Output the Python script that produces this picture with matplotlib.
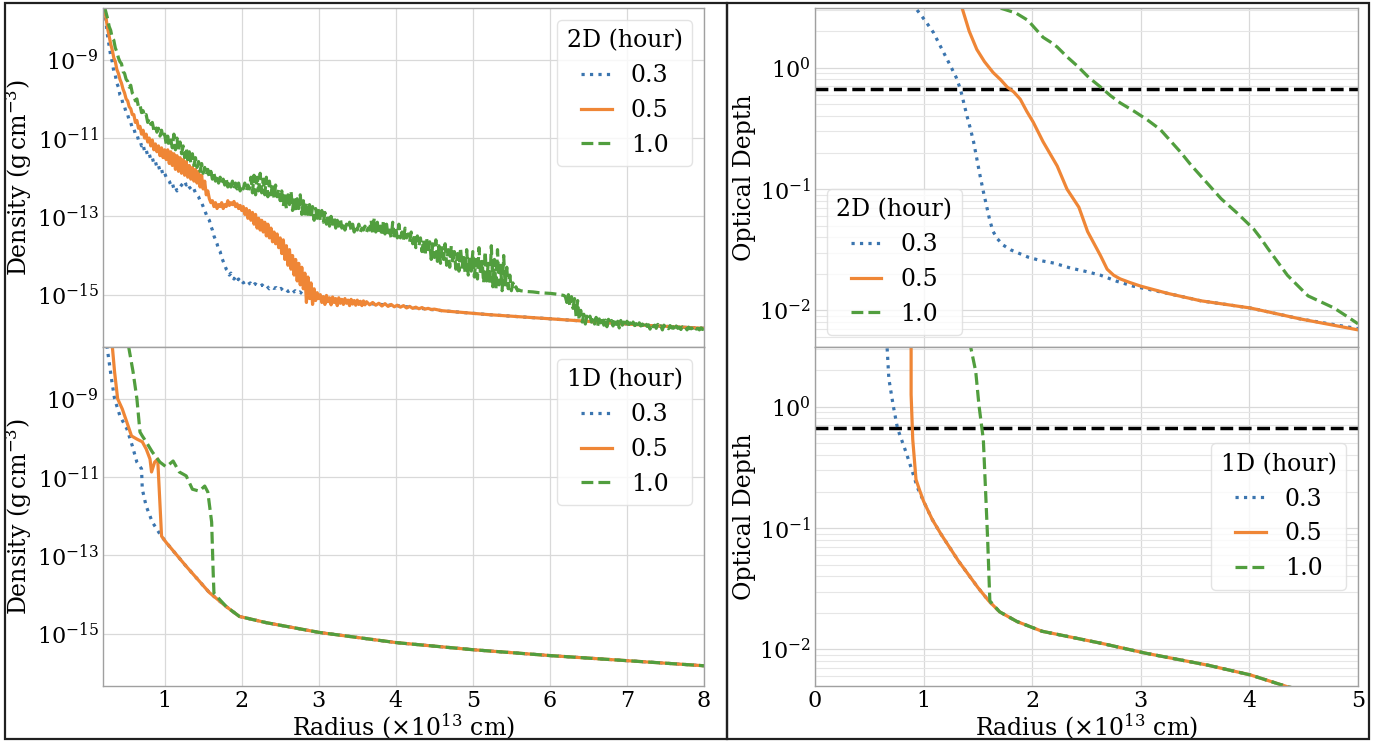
import numpy as np
import matplotlib
matplotlib.use('Agg')
from matplotlib import pyplot as plt
from matplotlib.patches import Rectangle
from matplotlib.ticker import FixedLocator, NullLocator

plt.rcParams['font.family'] = 'DejaVu Serif'
plt.rcParams['mathtext.fontset'] = 'dejavuserif'

# ---------------------------------------
# data: radius in 1e13 cm, density / optical depth as log10
# 2D profiles are stored per radial segment: (r_start, r_end, values on an even grid)
# ---------------------------------------
hours = ['0.3', '0.5', '1.0']
colors = ['#3b75af', '#ef8636', '#519e3e']
styles = [':', '-', '--']

# 2D density, 0.3 h
rho2d_03_seg = [
	(0.22, 1.00, [-7.70, -8.05, -8.40, -8.65, -8.90, -9.05, -9.30, -9.40, -9.60, -9.70,
	              -9.90, -9.95, -10.15, -10.20, -10.35, -10.40, -10.55, -10.60, -10.75, -10.75,
	              -10.90, -10.90, -11.05, -11.05, -11.20, -11.15, -11.35, -11.30, -11.45, -11.40,
	              -11.55, -11.50, -11.65, -11.60, -11.75, -11.70, -11.85, -11.80, -11.95, -11.90]),
	(1.02, 1.50, [-12.00, -12.05, -12.10, -12.20, -12.15, -12.30, -12.25, -12.35, -12.30, -12.25,
	              -12.20, -12.15, -12.10, -12.20, -12.15, -12.25, -12.30, -12.35, -12.30, -12.40,
	              -12.45, -12.50, -12.60, -12.65, -12.75]),
	(1.52, 2.00, [-12.85, -12.95, -13.05, -13.10, -13.25, -13.35, -13.50, -13.60, -13.70, -13.85,
	              -13.90, -14.05, -14.15, -14.25, -14.35, -14.40, -14.50, -14.45, -14.55, -14.60,
	              -14.55, -14.65, -14.60, -14.68, -14.65]),
	(2.02, 3.00, [-14.70, -14.66, -14.74, -14.70, -14.78, -14.72, -14.76, -14.80, -14.75, -14.82,
	              -14.78, -14.85, -14.80, -14.84, -14.82, -14.88, -14.84, -14.90, -14.86, -14.92,
	              -14.88, -14.95, -14.90, -14.96, -14.93, -14.98, -14.95, -15.00, -14.98, -15.03,
	              -15.00, -15.05, -15.04]),
]
r2d_03_tail = [3.1, 3.3, 3.6, 4.0, 4.6, 4.9, 5.2, 5.5, 5.8, 6.1, 6.4, 6.7, 7.0, 7.3, 7.6, 8.0]
rho2d_03_tail = [-15.10, -15.16, -15.22, -15.28, -15.41, -15.46, -15.51, -15.55, -15.59, -15.63,
                 -15.67, -15.71, -15.75, -15.79, -15.82, -15.86]

# 2D density, 0.5 h
rho2d_05_seg = [
	(0.22, 1.00, [-7.70, -7.95, -8.20, -8.40, -8.60, -8.75, -8.95, -9.05, -9.25, -9.35,
	              -9.50, -9.60, -9.75, -9.85, -10.00, -10.05, -10.20, -10.25, -10.40, -10.40,
	              -10.60, -10.55, -10.75, -10.70, -10.90, -10.80, -11.00, -10.90, -11.10, -11.00,
	              -11.20, -11.05, -11.30, -11.15, -11.35, -11.20, -11.45, -11.25, -11.50, -11.30]),
	(1.02, 1.56, [-11.55, -11.30, -11.65, -11.35, -11.70, -11.40, -11.80, -11.45, -11.85, -11.50,
	              -11.90, -11.55, -11.95, -11.60, -12.00, -11.70, -12.05, -11.75, -12.10, -11.80,
	              -12.15, -11.85, -12.25, -11.95, -12.30, -12.10, -12.45, -12.35]),
	(1.58, 2.00, [-12.55, -12.65, -12.60, -12.75, -12.65, -12.80, -12.70, -12.75, -12.65, -12.80,
	              -12.70, -12.75, -12.60, -12.72, -12.65, -12.70, -12.62, -12.75, -12.68, -12.80,
	              -12.72, -12.85]),
	(2.02, 3.00, [-12.75, -12.95, -12.80, -13.05, -12.85, -13.10, -12.90, -13.20, -12.95, -13.30,
	              -13.05, -13.35, -13.10, -13.40, -13.15, -13.50, -13.20, -13.55, -13.30, -13.65,
	              -13.40, -13.70, -13.45, -13.80, -13.55, -13.95, -13.60, -14.10, -13.75, -14.25,
	              -13.85, -14.35, -14.00, -14.50, -14.10, -14.65, -14.20, -14.75, -14.30, -14.85,
	              -14.45, -15.20, -14.55, -15.10, -14.70, -15.25, -14.85, -15.15, -14.95, -15.10]),
	(3.02, 3.60, [-15.00, -15.20, -15.05, -15.25, -15.02, -15.18, -15.08, -15.26, -15.06, -15.20,
	              -15.10, -15.28, -15.08, -15.22, -15.12, -15.25, -15.10, -15.22, -15.14, -15.28,
	              -15.12, -15.24, -15.15, -15.27, -15.14, -15.25, -15.17, -15.28, -15.16, -15.26]),
	(3.62, 4.50, [-15.18, -15.26, -15.20, -15.27, -15.22, -15.29, -15.23, -15.30, -15.25, -15.31,
	              -15.27, -15.32, -15.28, -15.34, -15.30, -15.35, -15.32, -15.36, -15.33, -15.37,
	              -15.35, -15.38, -15.37]),
]
r2d_05_tail = [4.6, 4.9, 5.2, 5.5, 5.8, 6.1, 6.4, 6.7, 7.0, 7.3, 7.6, 8.0]
rho2d_05_tail = [-15.41, -15.46, -15.51, -15.55, -15.59, -15.63, -15.67, -15.71, -15.75, -15.79,
                 -15.82, -15.86]

# 2D density, 1.0 h
rho2d_10_seg = [
	(0.22, 1.00, [-7.65, -7.80, -7.95, -8.15, -8.25, -8.45, -8.50, -8.70, -8.80, -8.95,
	              -9.05, -9.10, -9.30, -9.35, -9.50, -9.55, -9.70, -9.65, -9.85, -9.90,
	              -10.05, -10.00, -10.20, -10.15, -10.35, -10.30, -10.45, -10.40, -10.60, -10.50,
	              -10.65, -10.60, -10.80, -10.70, -10.85, -10.75, -10.95, -10.80, -11.00, -10.90]),
	(1.02, 2.10, [-11.15, -10.95, -11.20, -11.05, -11.25, -10.90, -11.30, -11.00, -11.35, -11.10,
	              -11.40, -11.20, -11.50, -11.25, -11.55, -11.35, -11.65, -11.40, -11.70, -11.50,
	              -11.75, -11.60, -11.85, -11.65, -11.90, -11.75, -11.95, -11.80, -12.00, -11.85,
	              -12.05, -11.90, -12.10, -11.95, -12.15, -12.00, -12.15, -12.05, -12.20, -12.05,
	              -12.25, -12.10, -12.25, -12.10, -12.30, -12.15, -12.30, -12.15, -12.35, -12.20,
	              -12.30, -12.15, -12.35, -12.20, -12.30]),
	(2.12, 2.50, [-12.00, -12.40, -11.95, -12.45, -12.00, -12.35, -11.90, -12.40, -12.05, -12.45,
	              -12.00, -12.50, -12.10, -12.45, -12.15, -12.55, -12.20, -12.50, -12.30, -12.60]),
	(2.52, 3.00, [-12.35, -12.75, -12.40, -12.80, -12.45, -12.70, -12.35, -12.85, -12.50, -12.90,
	              -12.55, -12.80, -12.45, -12.95, -12.60, -13.00, -12.65, -12.95, -12.70, -13.05,
	              -12.75, -13.10, -12.80, -13.05, -12.85]),
	(3.02, 4.20, [-13.10, -12.85, -13.15, -12.90, -13.20, -12.95, -13.25, -13.00, -13.20, -13.05,
	              -13.30, -13.10, -13.25, -13.05, -13.30, -13.15, -13.35, -13.20, -13.30, -13.15,
	              -13.35, -13.20, -13.40, -13.25, -13.35, -13.20, -13.40, -13.30, -13.35, -13.25,
	              -13.40, -13.30, -13.35, -13.10, -13.45, -13.05, -13.40, -13.15, -13.45, -13.25,
	              -13.50, -13.10, -13.45, -13.20, -13.50, -13.35, -13.55, -13.15, -13.50, -13.30,
	              -13.55, -13.20, -13.55, -13.40, -13.60, -13.30, -13.55, -13.45, -13.65, -13.40]),
	(4.22, 5.60, [-13.70, -13.45, -13.80, -13.50, -13.75, -13.55, -13.90, -13.60, -14.00, -13.55,
	              -13.95, -13.65, -14.10, -13.70, -14.05, -13.60, -14.15, -13.75, -14.20, -13.80,
	              -14.10, -13.70, -14.25, -13.85, -14.30, -13.75, -14.20, -13.90, -14.35, -13.95,
	              -14.40, -13.80, -14.30, -14.00, -14.45, -13.85, -14.50, -14.05, -14.40, -13.90,
	              -14.55, -14.10, -14.60, -13.80, -14.50, -14.15, -14.70, -13.90, -14.65, -14.20,
	              -14.75, -13.75, -14.80, -14.10, -14.85, -13.85, -14.75, -14.25, -14.90, -14.00,
	              -14.80, -14.30, -14.85, -14.50, -14.90, -14.70, -14.85, -14.80, -14.90, -14.88]),
	(5.62, 6.18, [-14.90, -14.92, -14.93, -14.95, -14.96, -14.97, -14.99, -15.02]),
	(6.20, 6.50, [-15.05, -15.20, -15.00, -15.30, -15.05, -15.35, -15.10, -15.55, -15.15, -15.65,
	              -15.40, -15.70, -15.50, -15.75, -15.55, -15.65]),
	(6.52, 8.00, [-15.55, -15.70, -15.60, -15.75, -15.58, -15.80, -15.62, -15.72, -15.60, -15.78,
	              -15.65, -15.82, -15.63, -15.74, -15.66, -15.80, -15.64, -15.76, -15.68, -15.85,
	              -15.66, -15.78, -15.70, -15.82, -15.68, -15.76, -15.72, -15.84, -15.70, -15.79,
	              -15.74, -15.86, -15.72, -15.80, -15.75, -15.83, -15.73, -15.81, -15.77, -15.88,
	              -15.75, -15.82, -15.78, -15.86, -15.76, -15.84, -15.80, -15.90, -15.78, -15.85,
	              -15.81, -15.87, -15.79, -15.85, -15.82, -15.92, -15.80, -15.86, -15.83, -15.89,
	              -15.82, -15.88, -15.84, -15.90, -15.83, -15.87, -15.85, -15.91, -15.84, -15.88,
	              -15.86, -15.90, -15.85, -15.89, -15.87]),
]

# 1D density
r1d_03 = [0.25, 0.31, 0.35, 0.42, 0.51, 0.58, 0.64, 0.70, 0.71, 0.76, 0.84, 0.94, 1.02, 1.28,
          1.58, 1.80, 1.97, 2.32, 3.01, 4.01, 5.00, 6.00, 7.00, 8.00]
rho1d_03 = [-7.64, -8.49, -9.00, -9.44, -9.77, -10.20, -10.62, -10.79, -11.31, -11.74, -12.15,
            -12.46, -12.67, -13.28, -13.95, -14.31, -14.56, -14.72, -14.97, -15.23, -15.41, -15.56,
            -15.69, -15.82]
r1d_05 = [0.32, 0.35, 0.39, 0.45, 0.51, 0.57, 0.64, 0.71, 0.76, 0.81, 0.83, 0.87, 0.91, 0.96,
          1.02, 1.28, 1.58, 1.80, 1.97, 2.32, 3.01, 4.01, 5.00, 6.00, 7.00, 8.00]
rho1d_05 = [-7.64, -8.31, -9.00, -9.26, -9.60, -9.95, -10.03, -10.10, -10.28, -10.54, -10.87,
            -10.62, -10.54, -12.51, -12.67, -13.28, -13.95, -14.31, -14.56, -14.72, -14.97, -15.23,
            -15.41, -15.56, -15.69, -15.82]
r1d_10 = [0.53, 0.59, 0.64, 0.68, 0.71, 0.76, 0.84, 0.94, 1.02, 1.11, 1.19, 1.28, 1.36, 1.45,
          1.52, 1.56, 1.61, 1.63, 1.64, 1.80, 1.97, 2.32, 3.01, 4.01, 5.00, 6.00, 7.00, 8.00]
rho1d_10 = [-7.64, -8.31, -9.00, -9.85, -9.95, -10.10, -10.36, -10.62, -10.74, -10.59, -10.87,
            -10.97, -11.31, -11.36, -11.23, -11.38, -12.15, -13.44, -13.97, -14.31, -14.56, -14.72,
            -14.97, -15.23, -15.41, -15.56, -15.69, -15.82]

# 2D optical depth
t2d_r03 = [0.94, 1.02, 1.09, 1.17, 1.25, 1.30, 1.34, 1.37, 1.40, 1.43, 1.46, 1.49, 1.52, 1.55,
           1.58, 1.61, 1.64, 1.68, 1.73, 1.80, 1.88, 1.96, 2.08, 2.20, 2.35, 2.50, 2.63, 2.78,
           2.93, 3.25, 3.55, 4.01, 4.47, 5.00]
tau2d_03 = [0.475, 0.38, 0.29, 0.15, 0.01, -0.08, -0.18, -0.29, -0.40, -0.50, -0.61, -0.75,
            -0.89, -1.02, -1.14, -1.26, -1.35, -1.41, -1.46, -1.50, -1.53, -1.56, -1.59, -1.61,
            -1.65, -1.68, -1.71, -1.76, -1.80, -1.86, -1.92, -1.98, -2.07, -2.15]
t2d_r05 = [1.36, 1.42, 1.49, 1.56, 1.64, 1.71, 1.77, 1.83, 1.89, 1.95, 2.01, 2.10, 2.23, 2.32,
           2.43, 2.51, 2.57, 2.63, 2.69, 2.75, 2.81, 2.90, 3.00, 3.25, 3.55, 4.01, 4.47, 5.00]
tau2d_05 = [0.475, 0.30, 0.15, 0.05, -0.04, -0.10, -0.16, -0.20, -0.26, -0.36, -0.45, -0.61,
            -0.81, -1.00, -1.15, -1.35, -1.45, -1.55, -1.66, -1.71, -1.74, -1.77, -1.80, -1.86,
            -1.92, -1.98, -2.07, -2.16]
t2d_r10 = [1.71, 1.85, 1.96, 2.03, 2.10, 2.17, 2.23, 2.32, 2.42, 2.52, 2.63, 2.72, 2.81, 2.94,
           3.06, 3.18, 3.27, 3.37, 3.46, 3.55, 3.65, 3.74, 3.89, 4.04, 4.10, 4.17, 4.26, 4.35,
           4.45, 4.54, 4.66, 4.78, 4.90, 5.00]
tau2d_10 = [0.49, 0.45, 0.39, 0.32, 0.25, 0.21, 0.17, 0.09, 0.01, -0.08, -0.16, -0.23, -0.29,
            -0.36, -0.43, -0.51, -0.60, -0.70, -0.80, -0.89, -0.99, -1.08, -1.20, -1.33, -1.40,
            -1.49, -1.60, -1.71, -1.80, -1.88, -1.93, -1.98, -2.05, -2.11]

# 1D optical depth
t1d_r03 = [0.66, 0.68, 0.72, 0.76, 0.84, 0.92, 0.94, 1.00, 1.08, 1.16, 1.24, 1.32, 1.41, 1.50,
           1.60, 1.70, 1.86, 2.09, 2.64, 3.04, 3.62, 4.01, 4.36, 4.50, 5.00]
tau1d_03 = [0.55, 0.23, 0.01, -0.18, -0.38, -0.60, -0.66, -0.78, -0.93, -1.05, -1.16, -1.27,
            -1.38, -1.49, -1.60, -1.69, -1.77, -1.85, -1.95, -2.03, -2.13, -2.21, -2.31, -2.33,
            -2.42]
t1d_r05 = [0.885, 0.885, 0.90, 0.93, 0.96, 1.00, 1.08, 1.16, 1.24, 1.32, 1.41, 1.50, 1.60, 1.70,
           1.86, 2.09, 2.64, 3.04, 3.62, 4.01, 4.36, 4.50, 5.00]
tau1d_05 = [0.55, 0.10, -0.27, -0.60, -0.68, -0.78, -0.93, -1.05, -1.16, -1.27, -1.38, -1.49,
            -1.60, -1.69, -1.77, -1.85, -1.95, -2.03, -2.13, -2.21, -2.31, -2.33, -2.42]
t1d_r10 = [1.42, 1.48, 1.51, 1.55, 1.57, 1.59, 1.61, 1.70, 1.86, 2.09, 2.64, 3.04, 3.62, 4.01,
           4.36, 4.50, 5.00]
tau1d_10 = [0.55, 0.29, 0.01, -0.27, -0.68, -1.10, -1.60, -1.69, -1.77, -1.85, -1.95, -2.03,
            -2.13, -2.21, -2.31, -2.33, -2.42]

tau_photo = 2.0 / 3.0


def join_segments(segs, r_tail=None, v_tail=None):
	# even radial grid inside each segment, as in the simulation output
	r = [np.linspace(a, b, len(v)) for a, b, v in segs]
	v = [np.array(v) for a, b, v in segs]
	if r_tail is not None:
		r.append(np.array(r_tail))
		v.append(np.array(v_tail))
	return np.concatenate(r), np.concatenate(v)


def style_axes(ax, minor_grid=False):
	ax.set_yscale('log')
	ax.grid(True, which='major', color='#d9d9d9', lw=0.9)
	if minor_grid:
		ax.grid(True, which='minor', axis='y', color='#e6e6e6', lw=0.8)
	for s in ax.spines.values():
		s.set_color('#a0a0a0')
		s.set_linewidth(1.0)
	ax.tick_params(which='both', length=0, labelsize=16)
	ax.tick_params(axis='y', pad=3)
	ax.tick_params(axis='x', pad=3)
	ax.set_axisbelow(True)


def draw(ax, xs, ys, title, loc):
	for x, y, lab, c, ls in zip(xs, ys, hours, colors, styles):
		ax.plot(x, 10 ** np.asarray(y), ls=ls, color=c, lw=2.3, label=lab)
	ax.legend(title=title, loc=loc, fontsize=17, title_fontsize=17,
	          handlelength=1.3, framealpha=0.8, edgecolor='#dddddd')


fig = plt.figure(figsize=(13.87, 7.41), dpi=100)
W, H = 1387.0, 741.0


def box(x0, y0, x1, y1):
	# pixel box -> figure coords
	return [x0 / W, 1 - y1 / H, (x1 - x0) / W, (y1 - y0) / H]


ax1 = fig.add_axes(box(103, 8, 704, 347))
ax2 = fig.add_axes(box(103, 347, 704, 686), sharex=ax1)
ax3 = fig.add_axes(box(815, 8, 1358, 347))
ax4 = fig.add_axes(box(815, 347, 1358, 686), sharex=ax3)

r03, d03 = join_segments(rho2d_03_seg, r2d_03_tail, rho2d_03_tail)
r05, d05 = join_segments(rho2d_05_seg, r2d_05_tail, rho2d_05_tail)
r10, d10 = join_segments(rho2d_10_seg)

draw(ax1, [r03, r05, r10], [d03, d05, d10], '2D (hour)', 'upper right')
draw(ax2, [r1d_03, r1d_05, r1d_10], [rho1d_03, rho1d_05, rho1d_10], '1D (hour)', 'upper right')

for ax in (ax3, ax4):
	ax.axhline(tau_photo, color='black', ls='--', lw=2.5, zorder=1)
draw(ax3, [t2d_r03, t2d_r05, t2d_r10], [tau2d_03, tau2d_05, tau2d_10], '2D (hour)', 'lower left')
draw(ax4, [t1d_r03, t1d_r05, t1d_r10], [tau1d_03, tau1d_05, tau1d_10], '1D (hour)', 'center right')

for ax in (ax1, ax2):
	style_axes(ax)
	ax.set_xlim(0.2, 8)
	ax.set_ylim(4.6e-17, 2.1e-8)
	ax.yaxis.set_major_locator(FixedLocator([1e-9, 1e-11, 1e-13, 1e-15]))
	ax.yaxis.set_minor_locator(NullLocator())
	ax.set_ylabel(r'Density ($\mathrm{g\,cm^{-3}}$)', fontsize=17, labelpad=2)
ax1.set_xticks(range(1, 9))

for ax in (ax3, ax4):
	style_axes(ax, minor_grid=True)
	ax.set_xlim(0, 5)
	ax.set_ylim(5e-3, 3.1)
	ax.set_ylabel('Optical Depth', fontsize=17, labelpad=2)
ax3.set_xticks(range(0, 6))

plt.setp(ax1.get_xticklabels(), visible=False)
plt.setp(ax3.get_xticklabels(), visible=False)
ax2.set_xlabel(r'Radius ($\times 10^{13}$ cm)', fontsize=17, labelpad=0)
ax4.set_xlabel(r'Radius ($\times 10^{13}$ cm)', fontsize=17, labelpad=0)

# frames around each half
fig.patches.append(Rectangle((5 / W, 2 / H), 722 / W, 736 / H, transform=fig.transFigure,
                             fill=False, ec='#202020', lw=1.6))
fig.patches.append(Rectangle((727 / W, 2 / H), 642 / W, 736 / H, transform=fig.transFigure,
                             fill=False, ec='#202020', lw=1.6))

fig.savefig('out.png', dpi=100)
